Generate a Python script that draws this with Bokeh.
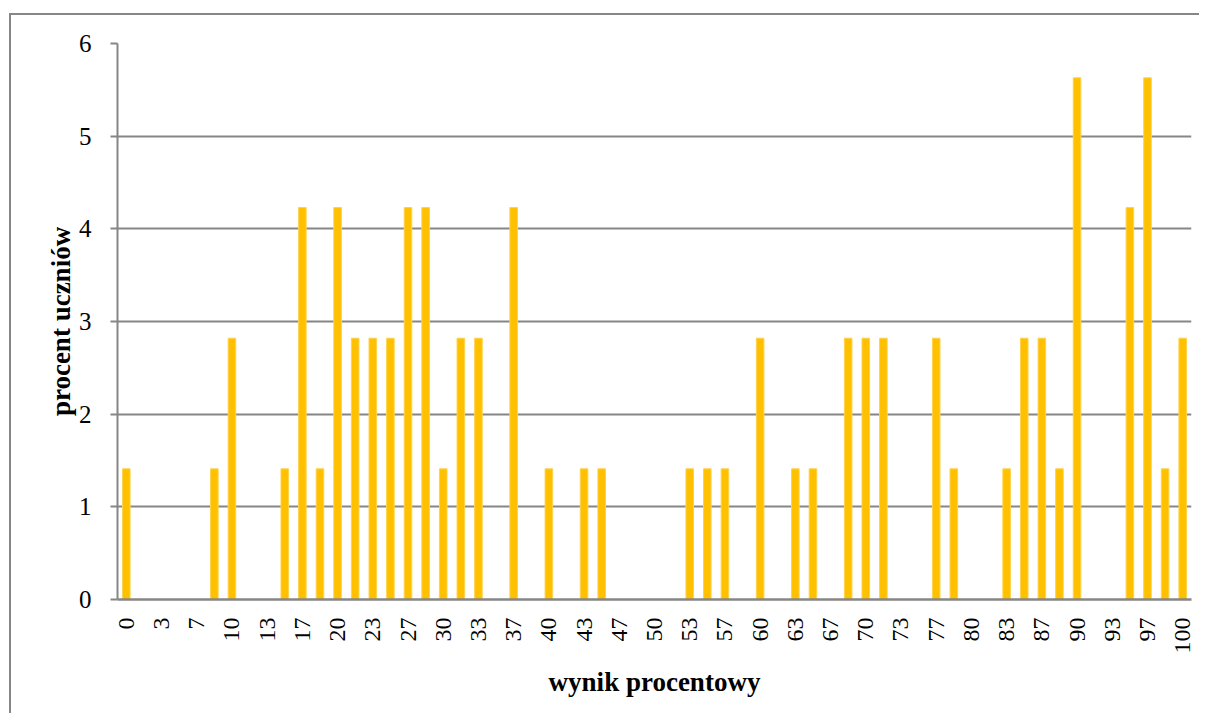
import math
from bokeh.plotting import figure
from bokeh.models import Range1d, FixedTicker, ColumnDataSource
from bokeh.embed import file_html
from bokeh.resources import INLINE

categories = ["0", "2", "3", "5", "7", "8", "10", "12", "13", "15", "17", "18", "20", "22", "23",
              "25", "27", "28", "30", "32", "33", "35", "37", "38", "40", "42", "43", "45", "47", "48",
              "50", "52", "53", "55", "57", "58", "60", "62", "63", "65", "67", "68", "70", "72", "73",
              "75", "77", "78", "80", "82", "83", "85", "87", "88", "90", "92", "93", "95", "97", "98", "100"]
values = [1.41, 0, 0, 0, 0, 1.41, 2.82, 0, 0, 1.41, 4.23, 1.41, 4.23, 2.82, 2.82,
          2.82, 4.23, 4.23, 1.41, 2.82, 2.82, 0, 4.23, 0, 1.41, 0, 1.41, 1.41, 0, 0,
          0, 0, 1.41, 1.41, 1.41, 0, 2.82, 0, 1.41, 1.41, 0, 2.82, 2.82, 2.82, 0,
          0, 2.82, 1.41, 0, 0, 1.41, 2.82, 2.82, 1.41, 5.63, 0, 0, 4.23, 5.63, 1.41, 2.82]
y_ticks = [0, 1, 2, 3, 4, 5, 6]

x_idx = list(range(len(categories)))
src = ColumnDataSource(data=dict(x=x_idx, top=values, cat=categories))

FONT = "Liberation Serif"
GRAY = "#868686"

p = figure(width=1190, height=700, output_backend="svg", toolbar_location=None,
           x_range=Range1d(-0.5, len(categories) - 0.5), y_range=Range1d(0, 6),
           min_border_left=106, min_border_right=10, min_border_top=28, min_border_bottom=116)
p.styles = {"border-left": "2px solid #868686", "border-top": "2px solid #868686",
            "position": "relative", "left": "9px", "top": "13px"}
p.outline_line_color = None

p.vbar(x="x", top="top", width=0.43, source=src, fill_color="#FFC000", line_color="#FFD24D", line_width=1)

# x axis
p.xaxis.ticker = FixedTicker(ticks=x_idx[::2])
p.xaxis.major_label_overrides = {i: categories[i] for i in x_idx[::2]}
p.xaxis.major_label_orientation = math.pi / 2
p.xaxis.major_tick_out = 0
p.xaxis.major_tick_in = 0
p.xaxis.minor_tick_line_color = None
p.xaxis.major_label_standoff = 18
p.xaxis.axis_line_color = GRAY
p.xaxis.axis_line_width = 2.5
p.xaxis.major_label_text_font = FONT
p.xaxis.major_label_text_font_size = "24px"
p.xaxis.major_label_text_color = "black"
p.xaxis.axis_label = "wynik procentowy"
p.xaxis.axis_label_text_font = FONT
p.xaxis.axis_label_text_font_size = "27px"
p.xaxis.axis_label_text_font_style = "bold"
p.xaxis.axis_label_text_color = "black"
p.xaxis.axis_label_standoff = 10

# y axis
p.yaxis.ticker = FixedTicker(ticks=y_ticks)
p.yaxis.major_tick_out = 7
p.yaxis.major_tick_in = 0
p.yaxis.minor_tick_line_color = None
p.yaxis.major_tick_line_color = GRAY
p.yaxis.major_tick_line_width = 2
p.yaxis.axis_line_color = GRAY
p.yaxis.axis_line_width = 2
p.yaxis.major_label_standoff = 19
p.yaxis.major_label_text_font = FONT
p.yaxis.major_label_text_font_size = "25px"
p.yaxis.major_label_text_color = "black"
p.yaxis.axis_label = "procent uczniów"
p.yaxis.axis_label_text_font = FONT
p.yaxis.axis_label_text_font_size = "27px"
p.yaxis.axis_label_text_font_style = "bold"
p.yaxis.axis_label_text_color = "black"
p.yaxis.axis_label_standoff = 0

p.xgrid.grid_line_color = None
p.ygrid.ticker = FixedTicker(ticks=y_ticks)
p.ygrid.grid_line_color = GRAY
p.ygrid.grid_line_width = 2

open("out.html", "w").write(file_html(p, INLINE))
